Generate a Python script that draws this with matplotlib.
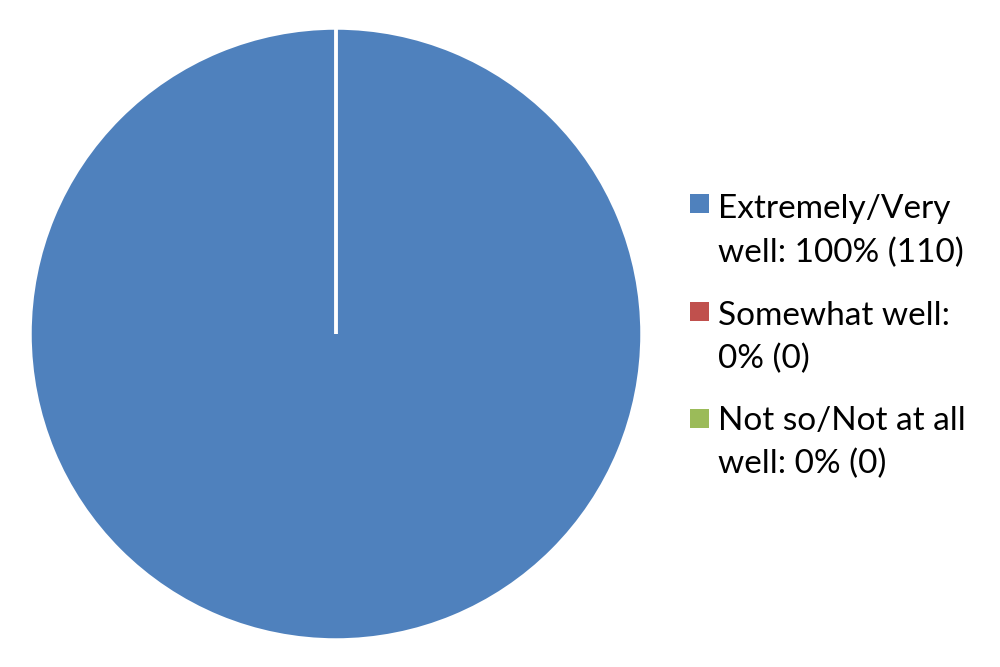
import matplotlib
matplotlib.use("Agg")
import matplotlib.pyplot as plt
from matplotlib.patches import Rectangle

categories = ["Extremely/Very well", "Somewhat well", "Not so/Not at all well"]
values = [110, 0, 0]
label_lines = [["Extremely/Very", "well: 100% (110)"],
               ["Somewhat well:", "0% (0)"],
               ["Not so/Not at all", "well: 0% (0)"]]
colors = ["#4F81BD", "#C0504D", "#9BBB59"]

W, H = 1000, 667
fig = plt.figure(figsize=(W / 100, H / 100), dpi=100)
cx, cy, r = 336, 334, 306
ax = fig.add_axes([(cx - r) / W, (H - cy - r) / H, 2 * r / W, 2 * r / H])
ax.pie(values, colors=colors, startangle=90, counterclock=False, radius=1,
       wedgeprops=dict(edgecolor="white", linewidth=2.5))
ax.set_xlim(-1.0, 1.0)
ax.set_ylim(-1.0, 1.0)
ax.set_aspect("equal")
ax.axis("off")

sq_x, sq = 690, 19
sq_tops = [194, 302, 409]
baselines = [[218, 262], [325, 368], [430, 473]]
text_x = 718
for i, lines in enumerate(label_lines):
    fig.patches.append(Rectangle((sq_x / W, (H - sq_tops[i] - sq) / H), sq / W, sq / H,
                                 transform=fig.transFigure, facecolor=colors[i],
                                 edgecolor="none"))
    for j, line in enumerate(lines):
        fig.text(text_x / W, (H - baselines[i][j]) / H, line, fontsize=24,
                 family="Lato", va="baseline", ha="left", color="black")

fig.savefig("out.png", dpi=100, facecolor="white")
